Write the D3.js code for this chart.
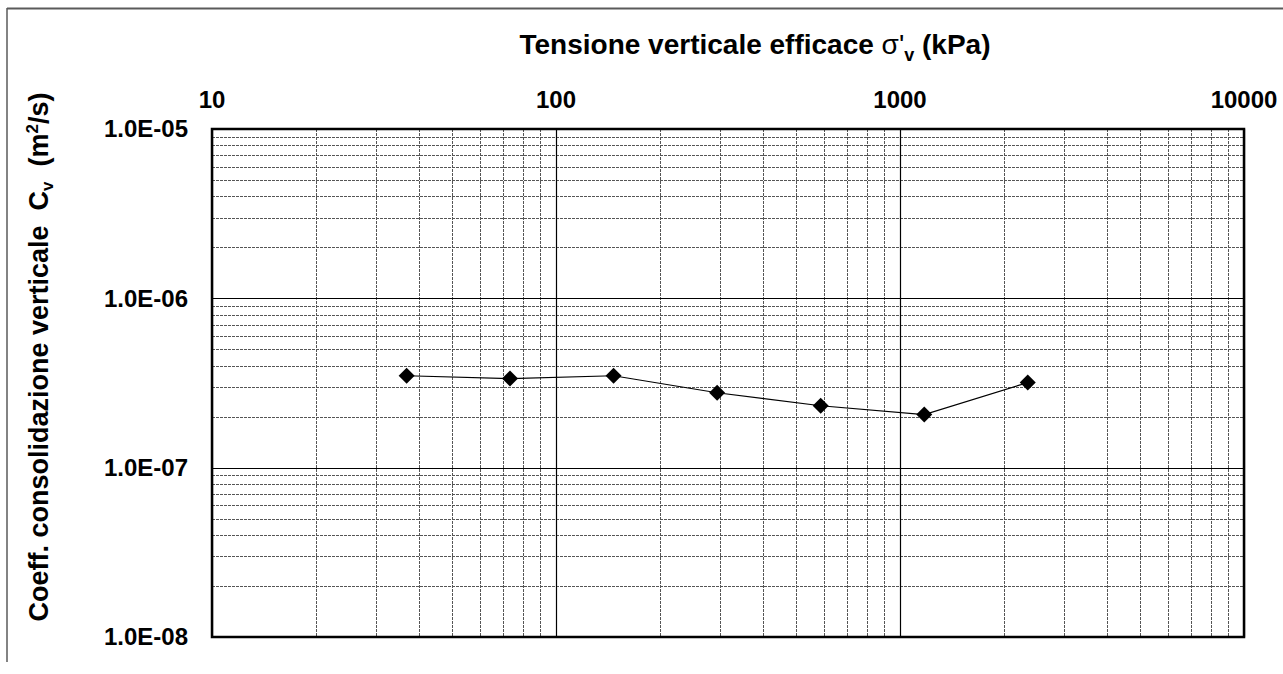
<!DOCTYPE html>
<html>
<head>
<meta charset="utf-8">
<script src="https://cdn.jsdelivr.net/npm/d3@7"></script>
<style>
  html, body { margin: 0; padding: 0; background: #fff; }
  svg { display: block; font-family: "Liberation Sans", Arial, sans-serif; }
  text { white-space: pre; }
</style>
</head>
<body>
<svg id="chart" width="1283" height="674"></svg>
<script>
// ---- data ----
const stress = [36.8, 73.5, 147, 294, 588, 1176, 2352];           // kPa
const cv = [3.49e-7, 3.36e-7, 3.49e-7, 2.77e-7, 2.32e-7, 2.06e-7, 3.18e-7]; // m2/s
const xTicks = [10, 100, 1000, 10000];
const xTickLabels = ["10", "100", "1000", "10000"];
const yTicks = [1e-5, 1e-6, 1e-7, 1e-8];
const yTickLabels = ["1.0E-05", "1.0E-06", "1.0E-07", "1.0E-08"];

const svg = d3.select("#chart");
const W = 1283, H = 674;
const m = { left: 212, right: 1244, top: 129, bottom: 637 };

const x = d3.scaleLog().domain([10, 10000]).range([m.left, m.right]);
const y = d3.scaleLog().domain([1e-8, 1e-5]).range([m.bottom, m.top]);

// outer frame (top and left edges)
svg.append("line").attr("x1", 7).attr("x2", W).attr("y1", 8.5).attr("y2", 8.5)
  .attr("stroke", "#5a5a5a").attr("stroke-width", 2);
svg.append("line").attr("x1", 7).attr("x2", 7).attr("y1", 8).attr("y2", 662)
  .attr("stroke", "#5a5a5a").attr("stroke-width", 1.5);

// minor grid values
const minorX = [], minorY = [];
for (let d = 10; d < 10000; d *= 10) for (let k = 2; k <= 9; k++) minorX.push(d * k);
for (let d = 1e-8; d < 1e-5 * 0.99; d *= 10) for (let k = 2; k <= 9; k++) minorY.push(d * k);

const g = svg.append("g");
g.selectAll("line.mx").data(minorX).join("line").attr("class", "mx")
  .attr("x1", d => Math.round(x(d)) + 0.5).attr("x2", d => Math.round(x(d)) + 0.5)
  .attr("y1", m.top).attr("y2", m.bottom)
  .attr("stroke", "#555").attr("stroke-width", 1).attr("stroke-dasharray", "3,1");
g.selectAll("line.my").data(minorY).join("line").attr("class", "my")
  .attr("y1", d => Math.round(y(d)) + 0.5).attr("y2", d => Math.round(y(d)) + 0.5)
  .attr("x1", m.left).attr("x2", m.right)
  .attr("stroke", "#555").attr("stroke-width", 1).attr("stroke-dasharray", "3,1");

// major grid
g.selectAll("line.Mx").data(xTicks).join("line").attr("class", "Mx")
  .attr("x1", d => Math.round(x(d)) + 0.5).attr("x2", d => Math.round(x(d)) + 0.5)
  .attr("y1", m.top).attr("y2", m.bottom)
  .attr("stroke", "#000").attr("stroke-width", 1.2);
g.selectAll("line.My").data(yTicks).join("line").attr("class", "My")
  .attr("y1", d => Math.round(y(d)) + 0.5).attr("y2", d => Math.round(y(d)) + 0.5)
  .attr("x1", m.left).attr("x2", m.right)
  .attr("stroke", "#000").attr("stroke-width", 1.2);

// plot border
svg.append("rect").attr("x", m.left).attr("y", m.top)
  .attr("width", m.right - m.left).attr("height", m.bottom - m.top)
  .attr("fill", "none").attr("stroke", "#000").attr("stroke-width", 2.5);

// x tick labels (top)
svg.selectAll("text.xt").data(xTicks).join("text").attr("class", "xt")
  .attr("x", d => x(d)).attr("y", 108)
  .attr("text-anchor", "middle").attr("font-size", 24).attr("font-weight", "bold")
  .text((d, i) => xTickLabels[i]);

// y tick labels
svg.selectAll("text.yt").data(yTicks).join("text").attr("class", "yt")
  .attr("x", 188).attr("y", d => y(d))
  .attr("dy", "0.35em")
  .attr("text-anchor", "end").attr("font-size", 24).attr("font-weight", "bold")
  .text((d, i) => yTickLabels[i]);

// x title
const xt = svg.append("text").attr("x", 755).attr("y", 54)
  .attr("text-anchor", "middle").attr("font-size", 28).attr("font-weight", "bold");
xt.append("tspan").text("Tensione verticale efficace ");
xt.append("tspan").attr("font-weight", "normal").text("σ'");
xt.append("tspan").attr("font-size", 18).attr("dy", 7).text("v");
xt.append("tspan").attr("dy", -7).text(" (kPa)");

// y title
const yt = svg.append("text")
  .attr("transform", "translate(48,357) rotate(-90)")
  .attr("text-anchor", "middle").attr("font-size", 27).attr("font-weight", "bold");
yt.append("tspan").text("Coeff. consolidazione verticale  C");
yt.append("tspan").attr("font-size", 17).attr("dy", 5).text("v");
yt.append("tspan").attr("dy", -5).text("  (m");
yt.append("tspan").attr("font-size", 17).attr("dy", -10).text("2");
yt.append("tspan").attr("dy", 10).text("/s)");

// data line
const pts = stress.map((s, i) => [s, cv[i]]);
svg.append("path").datum(pts)
  .attr("d", d3.line().x(d => x(d[0])).y(d => y(d[1])))
  .attr("fill", "none").attr("stroke", "#000").attr("stroke-width", 1.2);

// diamond markers
svg.selectAll("path.mk").data(pts).join("path").attr("class", "mk")
  .attr("transform", d => `translate(${x(d[0])},${y(d[1])})`)
  .attr("d", "M0,-8L8,0L0,8L-8,0Z")
  .attr("fill", "#000");
</script>
</body>
</html>
